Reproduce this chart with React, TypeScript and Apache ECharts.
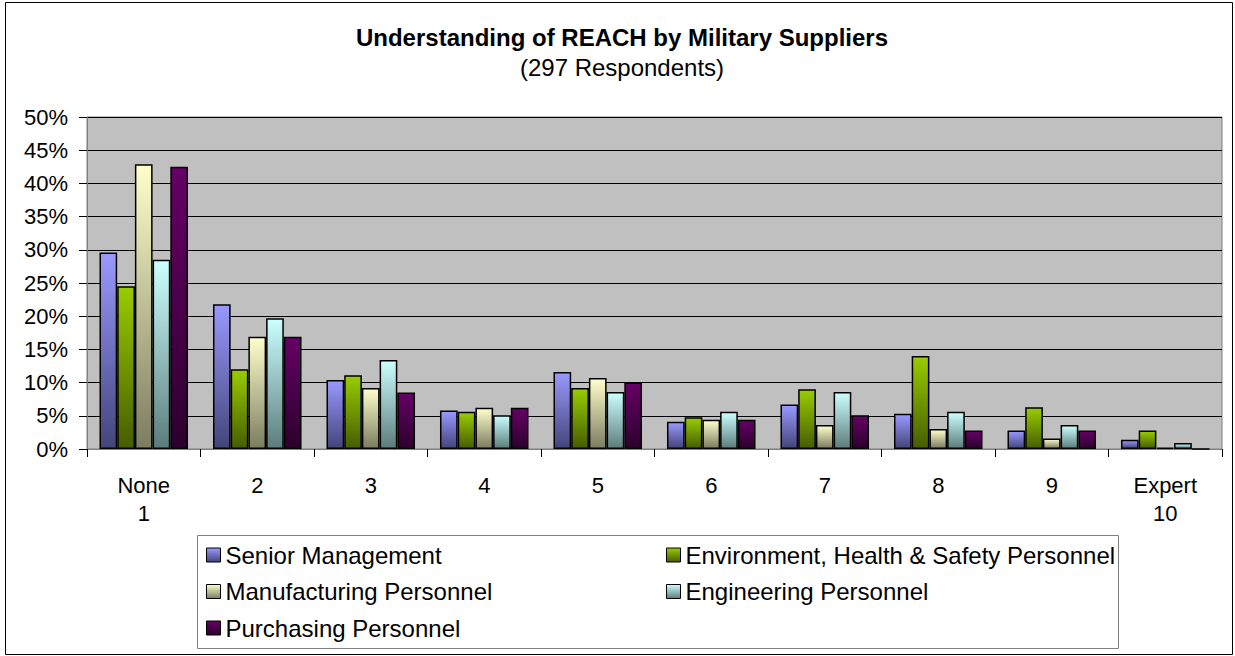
import React, { useEffect, useRef } from "react";
import * as echarts from "echarts";

const categories = ["None\n1", "2", "3", "4", "5", "6", "7", "8", "9", "Expert\n10"];
const seriesNames = [
  "Senior Management",
  "Environment, Health & Safety Personnel",
  "Manufacturing Personnel",
  "Engineering Personnel",
  "Purchasing Personnel",
];
const seniorManagement = [29.6, 21.8, 10.4, 5.8, 11.6, 4.1, 6.7, 5.3, 2.8, 1.4];
const ehsPersonnel = [24.5, 12.0, 11.1, 5.6, 9.2, 4.8, 9.0, 14.0, 6.3, 2.8];
const manufacturingPersonnel = [42.9, 16.9, 9.2, 6.2, 10.7, 4.4, 3.6, 3.0, 1.6, 0.2];
const engineeringPersonnel = [28.5, 19.7, 13.4, 5.1, 8.6, 5.6, 8.6, 5.6, 3.6, 0.9];
const purchasingPersonnel = [42.5, 16.9, 8.5, 6.2, 10.0, 4.4, 5.1, 2.8, 2.8, 0];
const seriesValues = [
  seniorManagement,
  ehsPersonnel,
  manufacturingPersonnel,
  engineeringPersonnel,
  purchasingPersonnel,
];
const gradientStops: [string, string][] = [
  ["#9999FF", "#44447A"],
  ["#99CC00", "#465D00"],
  ["#FFFFCC", "#7C7C60"],
  ["#CCFFFF", "#5D7C7C"],
  ["#660066", "#2C002C"],
];

const FONT = "'Liberation Sans', Arial, sans-serif";

export default function App() {
  const ref = useRef<HTMLDivElement>(null);
  useEffect(() => {
    if (!ref.current) return;
    const chart = echarts.init(ref.current, null, { renderer: "svg" });
    const grad = (top: string, bottom: string) =>
      new echarts.graphic.LinearGradient(0, 0, 0, 1, [
        { offset: 0, color: top },
        { offset: 1, color: bottom },
      ]);
    const legendBase = {
      orient: "vertical",
      top: 543,
      itemWidth: 14,
      itemHeight: 14,
      itemGap: 12.5,
      itemTextGap: 8,
      padding: 0,
      icon: "rect",
      selectedMode: false,
      itemStyle: { borderColor: "#000", borderWidth: 1 },
      textStyle: { fontSize: 24, lineHeight: 24, color: "#000", fontFamily: FONT },
    };
    chart.setOption({
      animation: false,
      backgroundColor: "#fff",
      textStyle: { fontFamily: FONT },
      grid: {
        left: 87,
        right: 13,
        top: 117,
        bottom: 207,
        show: true,
        backgroundColor: "#C0C0C0",
        borderColor: "#808080",
        borderWidth: 1,
      },
      legend: [
        { ...legendBase, left: 206, data: [seriesNames[0], seriesNames[2], seriesNames[4]] },
        { ...legendBase, left: 666, data: [seriesNames[1], seriesNames[3]] },
      ],
      xAxis: {
        type: "category",
        data: categories,
        axisLine: { show: true, lineStyle: { color: "#808080", width: 1 } },
        axisTick: { show: true, length: 8, interval: 0, lineStyle: { color: "#000" } },
        axisLabel: {
          interval: 0,
          fontSize: 22,
          lineHeight: 28,
          margin: 22,
          color: "#000",
          fontFamily: FONT,
        },
        splitLine: { show: false },
      },
      yAxis: {
        type: "value",
        min: 0,
        max: 50,
        interval: 5,
        axisLine: { show: true, lineStyle: { color: "#808080", width: 1 } },
        axisTick: { show: true, length: 8, lineStyle: { color: "#000" } },
        axisLabel: {
          formatter: "{value}%",
          fontSize: 22,
          margin: 19,
          color: "#000",
          fontFamily: FONT,
          padding: [8, 0, 0, 0],
        },
        splitLine: { show: true, lineStyle: { color: "#000", width: 1 } },
      },
      series: seriesNames.map((name, i) => ({
        name,
        type: "bar",
        data: seriesValues[i],
        barGap: "0%",
        barCategoryGap: "22%",
        itemStyle: {
          color: grad(gradientStops[i][0], gradientStops[i][1]),
          borderColor: "#000",
          borderWidth: 1.5,
        },
        emphasis: { disabled: true },
      })),
      graphic: [
        {
          type: "rect",
          shape: { x: 5.5, y: 2.5, width: 1227, height: 652 },
          style: { fill: "none", stroke: "#000", lineWidth: 1 },
          silent: true,
        },
        {
          type: "rect",
          shape: { x: 197.5, y: 535.5, width: 921, height: 113 },
          style: { fill: "none", stroke: "#808080", lineWidth: 1 },
          silent: true,
        },
        {
          type: "text",
          x: 622,
          y: 37,
          style: {
            text: "Understanding of REACH by Military Suppliers",
            fontSize: 24,
            fontWeight: "bold",
            fontFamily: FONT,
            fill: "#000",
            textAlign: "center",
            textVerticalAlign: "middle",
          },
        },
        {
          type: "text",
          x: 622,
          y: 67,
          style: {
            text: "(297 Respondents)",
            fontSize: 24,
            fontFamily: FONT,
            fill: "#000",
            textAlign: "center",
            textVerticalAlign: "middle",
          },
        },
      ],
    });
    return () => chart.dispose();
  }, []);
  return (
    <div
      ref={ref}
      style={{ position: "fixed", left: 0, top: 0, width: 1235, height: 656, background: "#fff" }}
    />
  );
}
